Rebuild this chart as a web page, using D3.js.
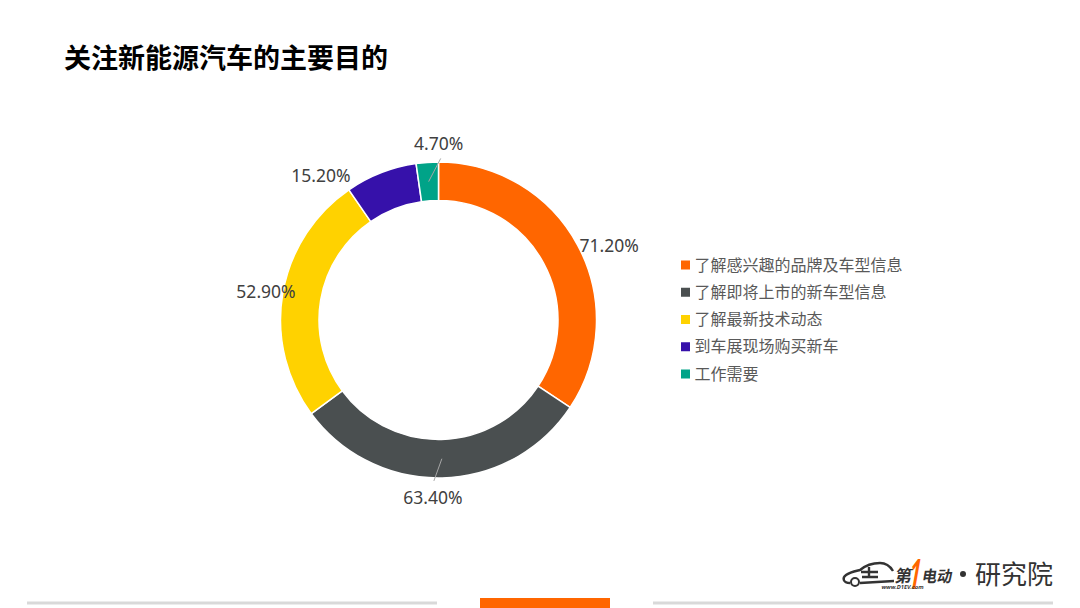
<!DOCTYPE html>
<html>
<head>
<meta charset="utf-8">
<script src="https://cdn.jsdelivr.net/npm/d3@7"></script>
<style>
html, body { margin: 0; padding: 0; background: #fff; overflow: hidden; }
text { font-family: "Noto Sans CJK SC", "Noto Sans", sans-serif; }
</style>
</head>
<body>
<div id="chart"></div>
<script>
// Chart data
var categories = ["了解感兴趣的品牌及车型信息", "了解即将上市的新车型信息", "了解最新技术动态", "到车展现场购买新车", "工作需要"];
var values = [71.2, 63.4, 52.9, 15.2, 4.7];
var colors = ["#ff6600", "#4a4f50", "#ffd200", "#3611aa", "#00a388"];

// Hand placed label offsets from the slice, in px
var labelNudge = [[12, 11], [-10, -2], [5, 2], [-52, 24], [13, 3]];
var hasLeader = [false, true, false, false, true];

var width = 1080;
var height = 608;
var cx = 438.5, cy = 320;
var outerR = 158, innerR = 119.5;

var svg = d3.select("#chart")
    .append("svg")
    .attr("width", width)
    .attr("height", height)
    .style("display", "block");

// Title
svg.append("text")
    .attr("x", 64)
    .attr("y", 68)
    .style("font-size", "27px")
    .style("font-weight", 700)
    .style("fill", "#000")
    .text("关注新能源汽车的主要目的");

// Donut
var pie = d3.pie().sort(null).value(d => d);
var arcs = pie(values);
var arc = d3.arc().innerRadius(innerR).outerRadius(outerR);
var labelArc = d3.arc().innerRadius(outerR + 22).outerRadius(outerR + 22);

var g = svg.append("g").attr("transform", "translate(" + cx + "," + cy + ")");

g.selectAll("path.slice")
    .data(arcs)
    .enter().append("path")
    .attr("class", "slice")
    .attr("d", arc)
    .style("fill", (d, i) => colors[i])
    .style("stroke", "#fff")
    .style("stroke-width", 1.5);

function labelPos(d, i) {
    var p = labelArc.centroid(d);
    return [p[0] + labelNudge[i][0], p[1] + labelNudge[i][1]];
}

// Leader lines run from the middle of the slice up to the label
g.selectAll("line.leader")
    .data(arcs.filter((d, i) => hasLeader[i]))
    .enter().append("line")
    .attr("class", "leader")
    .attr("x1", d => arc.centroid(d)[0])
    .attr("y1", d => arc.centroid(d)[1])
    .attr("x2", d => {
        var p = labelPos(d, d.index);
        return p[0] + (d.index == 1 ? 1 : 2);
    })
    .attr("y2", d => {
        var p = labelPos(d, d.index);
        return p[1] + (d.index == 1 ? -17 : 15);
    })
    .style("stroke", "#a6a6a6")
    .style("stroke-width", 1);

g.selectAll("text.label")
    .data(arcs)
    .enter().append("text")
    .attr("class", "label")
    .attr("x", (d, i) => labelPos(d, i)[0])
    .attr("y", (d, i) => labelPos(d, i)[1])
    .attr("dy", ".35em")
    .style("text-anchor", "middle")
    .style("font-family", '"Noto Sans", sans-serif')
    .style("font-size", "17.5px")
    .style("fill", "#404040")
    .text(d => d.value.toFixed(2) + "%");

// Legend
var legendY = d3.scalePoint().domain(categories).range([265, 374]);

var legend = svg.append("g").attr("class", "legend");

legend.selectAll("rect")
    .data(categories)
    .enter().append("rect")
    .attr("x", 681)
    .attr("y", d => legendY(d) - 4.5)
    .attr("width", 9)
    .attr("height", 9)
    .style("fill", (d, i) => colors[i]);

legend.selectAll("text")
    .data(categories)
    .enter().append("text")
    .attr("x", 694.5)
    .attr("y", d => legendY(d))
    .attr("dy", ".35em")
    .style("font-size", "16px")
    .style("fill", "#595959")
    .text(d => d);

// Footer bars
svg.append("rect").attr("x", 27).attr("y", 601.5).attr("width", 410).attr("height", 3).style("fill", "#d9d9d9");
svg.append("rect").attr("x", 653).attr("y", 601.5).attr("width", 400).attr("height", 3).style("fill", "#d9d9d9");
svg.append("rect").attr("x", 480).attr("y", 598).attr("width", 130).attr("height", 10).style("fill", "#ff6600");

// Logo, car outline plus wordmark
var logo = svg.append("g").attr("class", "logo");

logo.append("path")
    .attr("d", "M850,583 C843,583 842,578 846,575 C850,572 856,571 860,570 C866,565 872,563 880,563 C886,563 890,566 893,571 M860,583 L894,581 M861,572 L878,572 M869,567 L869,578 M862,577 L878,577")
    .style("fill", "none")
    .style("stroke", "#333")
    .style("stroke-width", 2.4);

logo.append("circle").attr("cx", 855).attr("cy", 582).attr("r", 4)
    .style("fill", "#fff").style("stroke", "#333").style("stroke-width", 2);

logo.append("text")
    .attr("x", 895).attr("y", 582)
    .attr("transform", "skewX(-10) translate(102,0)")
    .style("font-size", "17px").style("font-weight", 700).style("fill", "#333")
    .text("第");

logo.append("text")
    .attr("x", 908).attr("y", 589)
    .attr("textLength", 11)
    .attr("lengthAdjust", "spacingAndGlyphs")
    .attr("transform", "skewX(-10) translate(103,0)")
    .style("font-family", '"Noto Sans", sans-serif')
    .style("font-size", "42px").style("font-weight", 700).style("fill", "#ff6600")
    .text("1");

logo.append("text")
    .attr("x", 922).attr("y", 582)
    .attr("textLength", 30)
    .attr("lengthAdjust", "spacingAndGlyphs")
    .attr("transform", "skewX(-10) translate(102,0)")
    .style("font-size", "16px").style("font-weight", 700).style("fill", "#333")
    .text("电动");

logo.append("text")
    .attr("x", 881).attr("y", 589)
    .attr("transform", "skewX(-10) translate(104,0)")
    .style("font-family", '"Noto Sans", sans-serif')
    .style("font-size", "5.5px").style("font-weight", 700).style("fill", "#333")
    .text("www.D1EV.com");

logo.append("circle").attr("cx", 963).attr("cy", 574).attr("r", 3).style("fill", "#333");

logo.append("text")
    .attr("x", 975).attr("y", 584)
    .style("font-size", "26px").style("font-weight", 400).style("fill", "#333")
    .text("研究院");
</script>
</body>
</html>
